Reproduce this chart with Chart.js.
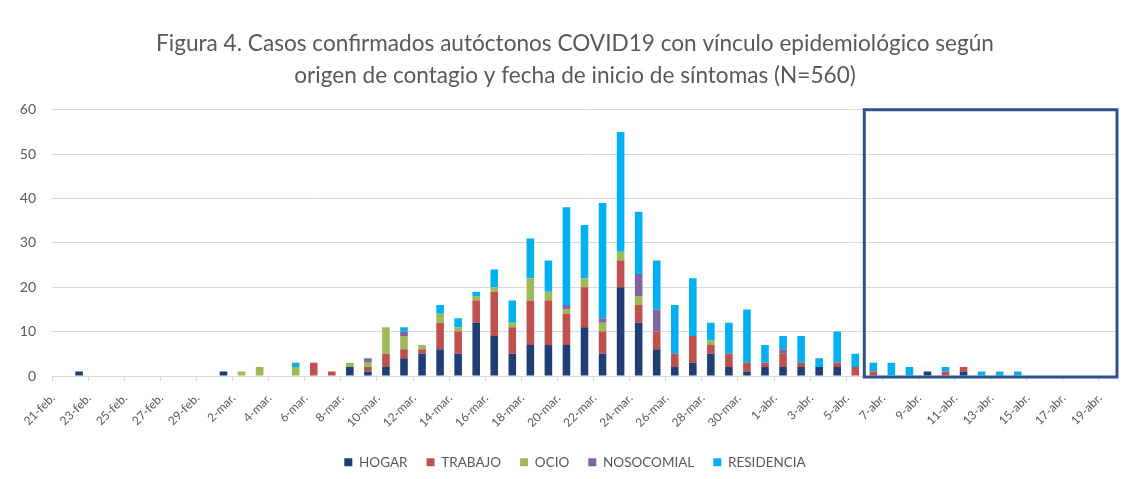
<!DOCTYPE html>
<html>
<head>
<meta charset="utf-8">
<script src="https://cdn.jsdelivr.net/npm/chart.js@4.4.1/dist/chart.umd.min.js"></script>
<style>
  html, body { margin: 0; padding: 0; background: #fff; }
  #wrap { width: 1131px; height: 479px; position: relative; }
</style>
</head>
<body>
<div id="wrap"><canvas id="casos-chart"></canvas></div>
<script>
// Casos autóctonos por fecha de inicio de síntomas y origen de contagio
const fechas = [
  '21-feb.', '22-feb.', '23-feb.', '24-feb.', '25-feb.', '26-feb.', '27-feb.', '28-feb.', '29-feb.',
  '1-mar.', '2-mar.', '3-mar.', '4-mar.', '5-mar.', '6-mar.', '7-mar.', '8-mar.', '9-mar.', '10-mar.',
  '11-mar.', '12-mar.', '13-mar.', '14-mar.', '15-mar.', '16-mar.', '17-mar.', '18-mar.', '19-mar.', '20-mar.',
  '21-mar.', '22-mar.', '23-mar.', '24-mar.', '25-mar.', '26-mar.', '27-mar.', '28-mar.', '29-mar.', '30-mar.', '31-mar.',
  '1-abr.', '2-abr.', '3-abr.', '4-abr.', '5-abr.', '6-abr.', '7-abr.', '8-abr.', '9-abr.', '10-abr.',
  '11-abr.', '12-abr.', '13-abr.', '14-abr.', '15-abr.', '16-abr.', '17-abr.', '18-abr.', '19-abr.'
];

const hogar = [
  0, 1, 0, 0, 0, 0, 0, 0, 0, 1,
  0, 0, 0, 0, 0, 0, 2, 1, 2, 4,
  5, 6, 5, 12, 9, 5, 7, 7, 7, 11,
  5, 20, 12, 6, 2, 3, 5, 2, 1, 2,
  2, 2, 2, 2, 0, 0, 0, 0, 1, 0,
  1, 0, 0, 0, 0, 0, 0, 0, 0
];
const trabajo = [
  0, 0, 0, 0, 0, 0, 0, 0, 0, 0,
  0, 0, 0, 0, 3, 1, 0, 1, 3, 2,
  1, 6, 5, 5, 10, 6, 10, 10, 7, 9,
  5, 6, 4, 4, 3, 6, 2, 3, 2, 1,
  3, 1, 0, 1, 2, 1, 0, 0, 0, 1,
  1, 0, 0, 0, 0, 0, 0, 0, 0
];
const ocio = [
  0, 0, 0, 0, 0, 0, 0, 0, 0, 0,
  1, 2, 0, 2, 0, 0, 1, 1, 6, 3,
  1, 2, 1, 1, 1, 1, 5, 2, 1, 2,
  2, 2, 2, 0, 0, 0, 1, 0, 0, 0,
  0, 0, 0, 0, 0, 0, 0, 0, 0, 0,
  0, 0, 0, 0, 0, 0, 0, 0, 0
];
const nosocomial = [
  0, 0, 0, 0, 0, 0, 0, 0, 0, 0,
  0, 0, 0, 0, 0, 0, 0, 1, 0, 1,
  0, 0, 0, 0, 0, 0, 0, 0, 1, 0,
  1, 0, 5, 5, 0, 0, 0, 0, 0, 0,
  1, 0, 0, 0, 0, 0, 0, 0, 0, 0,
  0, 0, 0, 0, 0, 0, 0, 0, 0
];
const residencia = [
  0, 0, 0, 0, 0, 0, 0, 0, 0, 0,
  0, 0, 0, 1, 0, 0, 0, 0, 0, 1,
  0, 2, 2, 1, 4, 5, 9, 7, 22, 12,
  26, 27, 14, 11, 11, 13, 4, 7, 12, 4,
  3, 6, 2, 7, 3, 2, 3, 2, 0, 1,
  0, 1, 1, 1, 0, 0, 0, 0, 0
];

const yTicks = [0, 10, 20, 30, 40, 50, 60];
const tituloLineas = [
  'Figura 4. Casos confirmados autóctonos COVID19 con vínculo epidemiológico según',
  'origen de contagio y fecha de inicio de síntomas (N=560)'
];
const recuadroDesde = '6-abr.';

const FONT = 'Lato, "Open Sans", sans-serif';
const GRIS = '#595959';

// recuadro azul sobre los últimos días
const recuadroPlugin = {
  id: 'recuadro',
  afterDatasetsDraw(chart) {
    const { ctx, chartArea, scales } = chart;
    const x0 = scales.x.getPixelForValue(fechas.indexOf(recuadroDesde) - 0.5);
    const yTop = scales.y.getPixelForValue(yTicks[yTicks.length - 1]);
    const yBot = scales.y.getPixelForValue(0) + 1;
    ctx.save();
    ctx.strokeStyle = '#2F528F';
    ctx.lineWidth = 3;
    ctx.strokeRect(x0, yTop, chartArea.right - x0, yBot - yTop);
    ctx.restore();
  }
};

const mkSet = (label, data, color) => ({
  label: label,
  data: data,
  backgroundColor: color,
  borderWidth: 0,
  categoryPercentage: 1,
  barPercentage: 0.42
});

const ctx = document.getElementById('casos-chart').getContext('2d');
new Chart(ctx, {
  type: 'bar',
  data: {
    labels: fechas,
    datasets: [
      mkSet('HOGAR', hogar, '#1F3F74'),
      mkSet('TRABAJO', trabajo, '#C0504D'),
      mkSet('OCIO', ocio, '#9BBB59'),
      mkSet('NOSOCOMIAL', nosocomial, '#8064A2'),
      mkSet('RESIDENCIA', residencia, '#00B0F0')
    ]
  },
  plugins: [recuadroPlugin],
  options: {
    responsive: true,
    maintainAspectRatio: false,
    animation: false,
    layout: { padding: { left: 20, right: 1, top: 0, bottom: 0 } },
    plugins: {
      title: {
        display: true,
        text: tituloLineas,
        color: GRIS,
        font: { family: FONT, size: 22.6, weight: 'normal', lineHeight: 1.41 },
        padding: { top: 28, bottom: 18 }
      },
      legend: {
        display: true,
        position: 'bottom',
        labels: {
          color: GRIS,
          font: { family: FONT, size: 13.5 },
          boxWidth: 8,
          boxHeight: 8,
          padding: 19
        }
      },
      tooltip: { enabled: false }
    },
    scales: {
      x: {
        stacked: true,
        offset: true,
        grid: {
          offset: true,
          drawOnChartArea: false,
          drawTicks: true,
          tickLength: 5,
          color: c => (c.index % 2 === 0 ? '#d9d9d9' : 'rgba(0,0,0,0)')
        },
        border: { color: '#d9d9d9' },
        ticks: {
          autoSkip: false,
          minRotation: 45,
          maxRotation: 45,
          labelOffset: -8,
          padding: 10,
          color: GRIS,
          font: { family: FONT, size: 12 },
          callback: (v, i) => (i % 2 === 0 ? fechas[i] : '')
        },
        afterFit: s => { s.height = 60.5; }
      },
      y: {
        stacked: true,
        min: 0,
        max: 60,
        afterBuildTicks: s => { s.ticks = yTicks.map(v => ({ value: v })); },
        grid: { color: '#d9d9d9', drawTicks: false },
        border: { display: false },
        ticks: {
          color: GRIS,
          font: { family: FONT, size: 14 },
          padding: 16
        },
        afterFit: s => { s.width = 32; }
      },
      // margen derecho vacío, sólo para reservar espacio
      margen: {
        type: 'linear',
        position: 'right',
        display: true,
        grid: { display: false },
        border: { display: false },
        ticks: { display: false },
        afterFit: s => { s.width = 13; }
      }
    }
  }
});
</script>
</body>
</html>
